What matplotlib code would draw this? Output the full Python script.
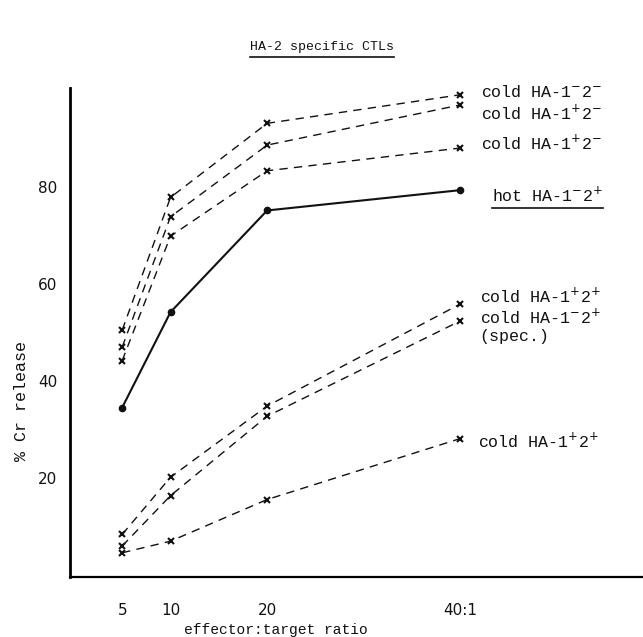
"""HA-2 specific CTLs — % Cr release vs effector:target ratio (scan recreation)."""

import matplotlib

matplotlib.use("Agg")
import matplotlib.pyplot as plt
from matplotlib.lines import Line2D

# ---- data ----
ratios = [5, 10, 20, 40]
x_ticklabels = ["5", "10", "20", "40:1"]
y_ticks = [20, 40, 60, 80]

cold_mm = [50.5, 77.9, 93.2, 99.1]        # cold HA-1-2-
cold_pm_a = [47.0, 73.9, 88.7, 97.0]      # cold HA-1+2-
cold_pm_b = [44.2, 69.9, 83.4, 88.1]      # cold HA-1+2-
hot_mp = [34.5, 54.2, 75.2, 79.4]         # hot HA-1-2+
cold_pp_a = [8.3, 20.1, 34.8, 55.9]       # cold HA-1+2+
cold_mp_spec = [5.9, 16.3, 32.7, 52.4]    # cold HA-1-2+ (spec.)
cold_pp_b = [4.5, 6.9, 15.5, 28.1]        # cold HA-1+2+

MONO = ["Liberation Mono", "DejaVu Sans Mono"]
INK = "#111111"

fig = plt.figure(figsize=(6.43, 6.37), dpi=100)
ax = fig.add_axes([0.1089, 0.0942, 0.8911, 0.7677])

dash = dict(color=INK, lw=1.0, dashes=(6, 4.5), marker="x", ms=5, mew=1.5)
for vals in (cold_mm, cold_pm_a, cold_pm_b, cold_pp_a, cold_mp_spec, cold_pp_b):
    ax.plot(ratios, vals, **dash)
ax.plot(ratios, hot_mp, color=INK, lw=1.5, marker="o", ms=4.5)

ax.set_xlim(-0.4, 58.9)
ax.set_ylim(-0.5, 100.5)
ax.set_xticks(ratios)
ax.set_xticklabels(x_ticklabels)
ax.set_yticks(y_ticks)
ax.tick_params(axis="both", length=0, labelsize=11, colors=INK)
ax.tick_params(axis="x", pad=19)
ax.tick_params(axis="y", pad=9)
for side in ("top", "right"):
    ax.spines[side].set_visible(False)
ax.spines["left"].set_linewidth(2.0)
ax.spines["bottom"].set_linewidth(1.6)

# series labels at the right end
lab = dict(family=MONO, fontsize=12, color=INK, va="center", ha="left", clip_on=False)
ax.text(42.1, 99.6, r"cold HA-1$^{-}$2$^{-}$", **lab)
ax.text(42.1, 95.4, r"cold HA-1$^{+}$2$^{-}$", **lab)
ax.text(42.1, 89.2, r"cold HA-1$^{+}$2$^{-}$", **lab)
hot_txt = ax.text(43.3, 78.3, r"hot HA-1$^{-}$2$^{+}$", **lab)
ax.text(42.0, 57.5, r"cold HA-1$^{+}$2$^{+}$", **lab)
ax.text(42.0, 53.1, r"cold HA-1$^{-}$2$^{+}$", **lab)
ax.text(42.0, 49.1, "(spec.)", **lab)
ax.text(41.8, 27.6, r"cold HA-1$^{+}$2$^{+}$", **lab)

ax.set_ylabel("% Cr release", family=MONO, fontsize=12, color=INK)
ax.yaxis.set_label_coords(-0.072, 0.36)
ax.set_xlabel("effector:target ratio", family=MONO, fontsize=10.5, color=INK)
ax.xaxis.set_label_coords(0.36, -0.095)

title = fig.text(0.5, 0.926, "HA-2 specific CTLs", family=MONO, fontsize=9.5,
                 color=INK, ha="center", va="center")

# underlines (typed underline on the scan)
fig.canvas.draw()
W, H = fig.bbox.width, fig.bbox.height
for t, gap in ((title, 4), (hot_txt, 3)):
    bb = t.get_window_extent()
    y = (bb.y0 - gap) / H
    fig.add_artist(Line2D([bb.x0 / W, bb.x1 / W], [y, y], color=INK, lw=1.2))

fig.savefig("out.png", dpi=100)
plt.close(fig)
